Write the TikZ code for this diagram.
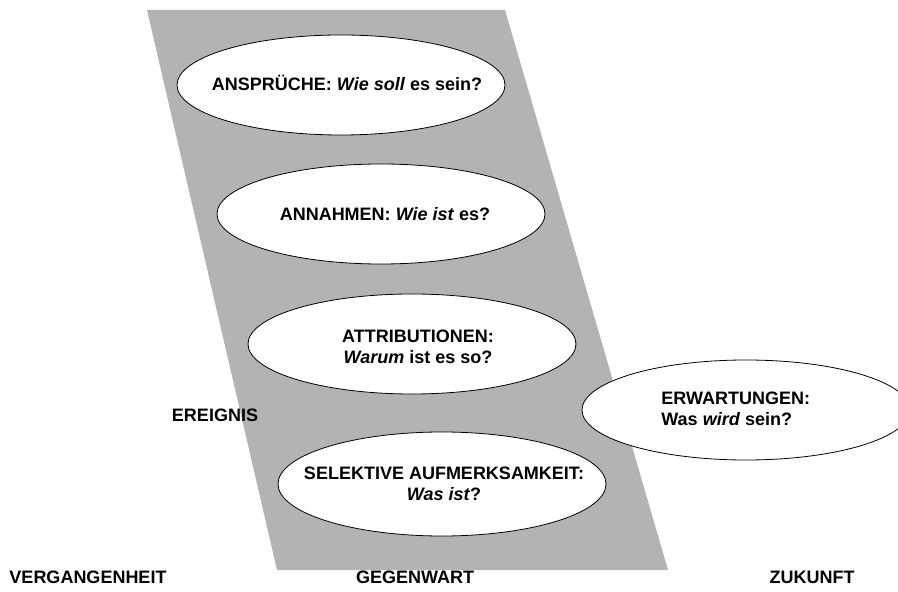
\documentclass[tikz,border=0pt]{standalone}
\usepackage{fontspec}
\setmainfont{Liberation Sans}
\usetikzlibrary{positioning, shapes.geometric}

\definecolor{bandgray}{RGB}{179,179,179}

\tikzset{
	bubble/.style={ellipse, draw, thin, fill=white, minimum width=164pt, minimum height=50pt, inner sep=0pt},
	lbl/.style={font=\fontsize{9}{10.5}\selectfont\bfseries, align=center, inner sep=0pt},
}

\begin{document}
\begin{tikzpicture}[x=0.5pt,y=-0.5pt]
		\useasboundingbox (0,0) rectangle (898,592);
		\clip (0,0) rectangle (898,592);

		% band for the present
		\fill[bandgray] (147,10) -- (505,10) -- (668,570) -- (277,570) -- cycle;

		\node[bubble] (anspr) at (341,85) {};
		\node[bubble] (annah) at (381,214) {};
		\node[bubble] (attrib) at (412,344) {};
		\node[bubble, minimum height=52pt] (selekt) at (442,484) {};
		\node[bubble] (erwart) at (746,410) {};

		\node[lbl] (anspr-t) at ([xshift=3pt,yshift=1pt]anspr.center) {ANSPRÜCHE: \textit{Wie soll} es sein?};
		\node[lbl] (annah-t) at ([xshift=2pt]annah.center) {ANNAHMEN: \textit{Wie ist} es?};
		\node[lbl] (attrib-t) at ([xshift=3pt,yshift=-1.5pt]attrib.center) {ATTRIBUTIONEN:\\\textit{Warum} ist es so?};
		\node[lbl] (selekt-t) at ([xshift=1pt]selekt.center) {SELEKTIVE AUFMERKSAMKEIT:\\\textit{Was ist}?};
		\node[lbl, align=left, anchor=west] (erwart-t) at (661,409) {ERWARTUNGEN:\\Was \textit{wird} sein?};

		\node[lbl] (ereignis) at (215,415) {EREIGNIS};
		\node[lbl] (verg) at (88,577) {VERGANGENHEIT};
		\node[lbl] (gegenw) at (415,577) {GEGENWART};
		\node[lbl] (zuk) at (812,577) {ZUKUNFT};
	\end{tikzpicture}
\end{document}
